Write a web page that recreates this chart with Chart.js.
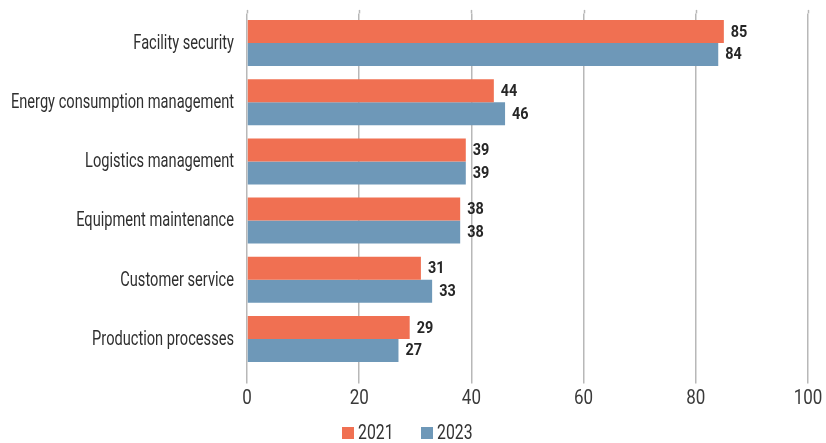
<!DOCTYPE html>
<html>
<head>
<meta charset="utf-8">
<script src="https://cdn.jsdelivr.net/npm/chart.js@4.4.1/dist/chart.umd.min.js"></script>
<style>
  html, body { margin: 0; padding: 0; background: #ffffff; }
  #wrap { width: 826px; height: 443px; position: relative; }
</style>
</head>
<body>
<div id="wrap"><canvas id="chart"></canvas></div>
<script>
const categories = [
  'Facility security',
  'Energy consumption management',
  'Logistics management',
  'Equipment maintenance',
  'Customer service',
  'Production processes'
];
const seriesNames = ['2021', '2023'];
const values2021 = [85, 44, 39, 38, 31, 29];
const values2023 = [84, 46, 39, 38, 33, 27];
const xTicks = [0, 20, 40, 60, 80, 100];

const FAMILY = "Roboto, 'Liberation Sans', sans-serif";
const NARROW = 0.81;          // horizontal squeeze for a condensed look
const NARROW_CAT = 0.75;      // category labels are a touch tighter
const GRID = '#b8b8b8';

// Draw text squeezed horizontally around its anchor point
function narrowText(ctx, text, x, y, align, font, color, sx) {
  ctx.save();
  ctx.font = font;
  ctx.fillStyle = color;
  ctx.textAlign = align;
  ctx.textBaseline = 'middle';
  ctx.translate(x, y);
  ctx.scale(sx, 1);
  ctx.fillText(text, 0, 0);
  ctx.restore();
}

const textLayer = {
  id: 'textLayer',
  beforeDatasetsDraw(chart) {
    // short extension of the vertical grid lines above the plot area
    const ctx = chart.ctx, x = chart.scales.x, top = chart.chartArea.top;
    ctx.save();
    ctx.strokeStyle = GRID;
    ctx.lineWidth = 1.5;
    xTicks.forEach(v => {
      const px = Math.round(x.getPixelForValue(v)) + 0.5;
      ctx.beginPath();
      ctx.moveTo(px, top - 3.5);
      ctx.lineTo(px, top);
      ctx.stroke();
    });
    ctx.restore();
  },
  afterDatasetsDraw(chart) {
    const ctx = chart.ctx;
    const xs = chart.scales.x, ys = chart.scales.y;
    const area = chart.chartArea;

    // category labels
    categories.forEach((c, i) => {
      narrowText(ctx, c, area.left - 13, ys.getPixelForValue(i) + 1,
        'right', '19.5px ' + FAMILY, '#2f2f2f', NARROW_CAT);
    });

    // value axis labels
    xTicks.forEach(v => {
      narrowText(ctx, String(v), xs.getPixelForValue(v), 399,
        'center', '21px ' + FAMILY, '#3a3a3a', NARROW);
    });

    // values at the end of each bar
    chart.data.datasets.forEach((ds, di) => {
      chart.getDatasetMeta(di).data.forEach((bar, i) => {
        narrowText(ctx, String(ds.data[i]), bar.x + 7, bar.y + 1,
          'left', 'bold 16px ' + FAMILY, '#262626', 0.9);
      });
    });

    // legend
    const boxes = [342, 421];
    chart.data.datasets.forEach((ds, di) => {
      ctx.fillStyle = ds.backgroundColor;
      ctx.fillRect(boxes[di], 427, 12, 12);
      narrowText(ctx, seriesNames[di], boxes[di] + 16, 434,
        'left', '19.5px ' + FAMILY, '#333333', NARROW);
    });
  }
};

new Chart(document.getElementById('chart'), {
  type: 'bar',
  data: {
    labels: categories,
    datasets: [
      { label: seriesNames[0], data: values2021, backgroundColor: '#F07052' },
      { label: seriesNames[1], data: values2023, backgroundColor: '#6E98B8' }
    ]
  },
  options: {
    indexAxis: 'y',
    responsive: true,
    maintainAspectRatio: false,
    animation: false,
    layout: { padding: { top: 13.4, right: 18, left: 0, bottom: 0 } },
    datasets: { bar: { categoryPercentage: 0.777, barPercentage: 1.0 } },
    scales: {
      x: {
        min: 0, max: 100,
        afterBuildTicks(axis) { axis.ticks = xTicks.map(v => ({ value: v })); },
        afterFit(axis) { axis.height = 74.4; },
        grid: { color: GRID, lineWidth: 1.5, tickLength: 15, drawTicks: true },
        border: { display: false },
        ticks: { display: false }
      },
      y: {
        afterFit(axis) { axis.width = 247; },
        grid: { display: false, drawTicks: false },
        border: { display: false },
        ticks: { display: false }
      }
    },
    plugins: {
      legend: { display: false },
      tooltip: { enabled: false }
    }
  },
  plugins: [textLayer]
});
</script>
</body>
</html>
